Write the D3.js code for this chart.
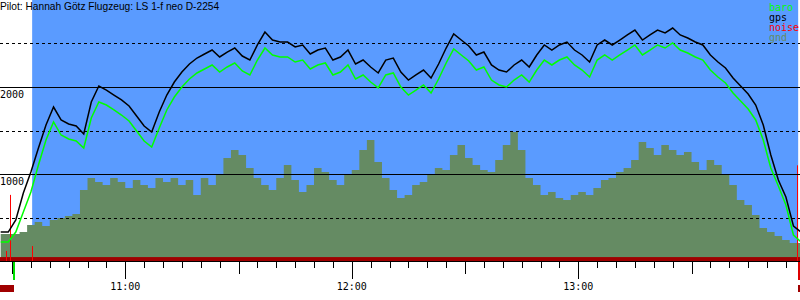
<!DOCTYPE html>
<html>
<head>
<meta charset="utf-8">
<script src="https://cdn.jsdelivr.net/npm/d3@7"></script>
<style>
    body { margin: 0; background: #fff; }
    svg { display: block; }
    .mono { font-family: "DejaVu Sans Mono", monospace; font-size: 10px; }
</style>
</head>
<body>
<script>
//flight data, sampled every 2 minutes starting 10:27
var startTime = "10:27:00",
    stepMinutes = 2;

//gps altitude (m)
var gps = [333, 333, 471, 782, 1023, 1299, 1563, 1770, 1621, 1575,
    1552, 1460, 1828, 2011, 1965, 1908, 1851, 1782, 1667, 1552,
    1483, 1713, 1908, 2057, 2172, 2264, 2333, 2379, 2425, 2345,
    2402, 2448, 2356, 2310, 2483, 2632, 2540, 2517, 2517, 2460,
    2483, 2379, 2425, 2448, 2310, 2345, 2425, 2264, 2310, 2230,
    2161, 2310, 2333, 2172, 2080, 2138, 2195, 2103, 2264, 2448,
    2609, 2540, 2471, 2368, 2402, 2253, 2195, 2172, 2253, 2310,
    2230, 2368, 2483, 2425, 2483, 2517, 2425, 2368, 2287, 2483,
    2540, 2483, 2540, 2598, 2655, 2540, 2598, 2655, 2621, 2678,
    2598, 2563, 2517, 2483, 2368, 2287, 2218, 2103, 2011, 1920,
    1793, 1563, 1218, 931, 736, 402, 333];

//barometric altitude (m)
var baro = [218, 218, 333, 563, 793, 1103, 1391, 1598, 1448, 1402,
    1379, 1299, 1644, 1828, 1793, 1736, 1678, 1609, 1494, 1379,
    1310, 1529, 1736, 1885, 2000, 2092, 2161, 2207, 2253, 2172,
    2230, 2276, 2184, 2138, 2310, 2448, 2368, 2345, 2345, 2287,
    2310, 2207, 2253, 2276, 2138, 2172, 2253, 2092, 2138, 2057,
    1989, 2138, 2161, 2000, 1908, 1965, 2023, 1931, 2092, 2276,
    2437, 2368, 2299, 2195, 2230, 2080, 2023, 2000, 2080, 2138,
    2057, 2195, 2310, 2253, 2310, 2345, 2253, 2195, 2115, 2310,
    2368, 2310, 2368, 2425, 2483, 2368, 2425, 2483, 2448, 2506,
    2425, 2391, 2345, 2310, 2195, 2115, 2046, 1931, 1839, 1747,
    1621, 1391, 1069, 862, 644, 299, 218];

//ground elevation below the track (m)
var gnd = [310, 310, 310, 333, 414, 448, 402, 471, 494, 517,
    540, 816, 954, 908, 874, 954, 908, 839, 931, 874,
    839, 954, 908, 954, 874, 931, 759, 954, 874, 988,
    1184, 1276, 1218, 1069, 954, 874, 816, 954, 1103, 931,
    793, 874, 1069, 1023, 931, 874, 988, 1046, 1276, 1391,
    1138, 954, 816, 724, 759, 874, 908, 988, 1069, 1046,
    1218, 1333, 1184, 1103, 1046, 1023, 1161, 1333, 1483, 1276,
    954, 874, 759, 793, 724, 701, 759, 793, 759, 839,
    931, 954, 1023, 1069, 1161, 1368, 1299, 1218, 1333, 1276,
    1218, 1253, 1138, 1046, 1161, 1103, 988, 874, 701, 644,
    529, 379, 333, 287, 241, 207, 207];

//noise level: base value plus single spikes
var noiseBase = 45;
var noiseSpikeTimes = ["10:28:25", "10:29:35", "10:35:20"],
    noiseSpikeValues = [115, 760, 172];

//flight events
var takeoffTime = "10:30:30",
    releaseTime = "10:35:20",
    landingTime = "13:58:15";

//axis range and grid
var axisStart = "10:26:49",
    axisEnd = "13:58:44";
var yMax = 3000;
var solidGrid = [1000, 2000],
    dashedGrid = [500, 1500, 2500],
    yLabels = ["1000", "2000"];

var title = "Pilot: Hannah Götz Flugzeug: LS 1-f neo D-2254";
var legendNames = ["baro", "gps", "noise", "gnd"],
    legendColors = ["#00ff00", "#000000", "#ff0000", "#658b63"];

window.onload = drawChart();

function drawChart(){

    var width = 800,
        height = 300,
        plotBottom = 261;

    var parseTime = d3.timeParse("%H:%M:%S");
    var t0 = parseTime(startTime);

    //time of each sample
    var times = gps.map(function(d, i){
        return d3.timeMinute.offset(t0, i * stepMinutes);
    });

    var svg = d3.select("body")
        .append("svg")
        .attr("width", width)
        .attr("height", height);

    var x = d3.scaleTime()
        .domain([parseTime(axisStart), parseTime(axisEnd)])
        .range([0, width]);

    var y = d3.scaleLinear()
        .domain([0, yMax])
        .range([plotBottom, 0]);

    //sky background between release and landing
    svg.append("rect")
        .attr("x", x(parseTime(releaseTime)))
        .attr("y", 0)
        .attr("width", x(parseTime(landingTime)) - x(parseTime(releaseTime)))
        .attr("height", plotBottom)
        .attr("fill", "#5a9bff");

    //ground area
    var gndArea = d3.area()
        .x(function(d, i){ return x(times[i]); })
        .y0(y(0))
        .y1(function(d){ return y(d); })
        .curve(d3.curveStep);

    svg.append("path")
        .datum(gnd)
        .attr("d", gndArea)
        .attr("fill", "#658b63");

    //noise base band
    svg.append("rect")
        .attr("x", 0)
        .attr("y", y(noiseBase))
        .attr("width", width)
        .attr("height", y(0) - y(noiseBase))
        .attr("fill", "#a00000");

    //noise spikes
    svg.selectAll(".spike")
        .data(noiseSpikeValues)
        .enter()
        .append("line")
        .attr("class", "spike")
        .attr("x1", function(d, i){ return Math.round(x(parseTime(noiseSpikeTimes[i]))) + 0.5; })
        .attr("x2", function(d, i){ return Math.round(x(parseTime(noiseSpikeTimes[i]))) + 0.5; })
        .attr("y1", y(0))
        .attr("y2", function(d){ return y(d); })
        .attr("stroke", "#ff0000")
        .attr("stroke-width", 1);

    //landing line
    svg.append("line")
        .attr("x1", Math.round(x(parseTime(landingTime))) - 0.5)
        .attr("x2", Math.round(x(parseTime(landingTime))) - 0.5)
        .attr("y1", y(0))
        .attr("y2", y(1100))
        .attr("stroke", "#ff0000");

    //grid lines
    svg.selectAll(".gridSolid")
        .data(solidGrid)
        .enter()
        .append("line")
        .attr("x1", 0)
        .attr("x2", width)
        .attr("y1", function(d){ return Math.round(y(d)) + 0.5; })
        .attr("y2", function(d){ return Math.round(y(d)) + 0.5; })
        .attr("stroke", "#000");

    svg.selectAll(".gridDashed")
        .data(dashedGrid)
        .enter()
        .append("line")
        .attr("x1", 0)
        .attr("x2", width)
        .attr("y1", function(d){ return Math.round(y(d)) + 0.5; })
        .attr("y2", function(d){ return Math.round(y(d)) + 0.5; })
        .attr("stroke", "#000")
        .attr("stroke-dasharray", "3,3");

    svg.selectAll(".yLabel")
        .data(yLabels)
        .enter()
        .append("text")
        .attr("class", "mono")
        .attr("x", 0)
        .attr("y", function(d){ return Math.round(y(+d)) + 11; })
        .text(function(d){ return d; });

    //altitude lines
    var line = d3.line()
        .x(function(d, i){ return x(times[i]); })
        .y(function(d){ return y(d); });

    svg.append("path")
        .datum(baro)
        .attr("d", line)
        .attr("fill", "none")
        .attr("stroke", "#00ff00")
        .attr("stroke-width", 1.5);

    svg.append("path")
        .datum(gps)
        .attr("d", line)
        .attr("fill", "none")
        .attr("stroke", "#000")
        .attr("stroke-width", 1.5);

    //time axis
    svg.append("line")
        .attr("x1", 0)
        .attr("x2", width)
        .attr("y1", plotBottom + 0.5)
        .attr("y2", plotBottom + 0.5)
        .attr("stroke", "#000");

    var ticks = x.ticks(d3.timeMinute.every(5));

    svg.selectAll(".tick")
        .data(ticks)
        .enter()
        .append("line")
        .attr("x1", function(d){ return Math.round(x(d)) + 0.5; })
        .attr("x2", function(d){ return Math.round(x(d)) + 0.5; })
        .attr("y1", plotBottom)
        .attr("y2", function(d){
            var m = d.getMinutes();
            return plotBottom + (m === 0 ? 18 : (m === 30 ? 13 : 7));
        })
        .attr("stroke", "#000");

    svg.selectAll(".tickLabel")
        .data(ticks.filter(function(d){ return d.getMinutes() === 0; }))
        .enter()
        .append("text")
        .attr("class", "mono")
        .attr("x", function(d){ return x(d); })
        .attr("y", 290)
        .attr("text-anchor", "middle")
        .text(d3.timeFormat("%H:%M"));

    //takeoff and landing markers
    var tx = x(parseTime(takeoffTime)),
        lx = x(parseTime(landingTime));

    svg.append("rect")
        .attr("x", Math.round(tx) - 1)
        .attr("y", plotBottom + 1)
        .attr("width", 2)
        .attr("height", 18)
        .attr("fill", "#00e000");

    svg.append("rect")
        .attr("x", 0)
        .attr("y", 285)
        .attr("width", Math.round(tx))
        .attr("height", 7)
        .attr("fill", "#a00000");

    svg.append("rect")
        .attr("x", Math.round(lx))
        .attr("y", plotBottom + 1)
        .attr("width", 2)
        .attr("height", 18)
        .attr("fill", "#dd0000");

    svg.append("rect")
        .attr("x", Math.round(lx))
        .attr("y", 285)
        .attr("width", 2)
        .attr("height", 7)
        .attr("fill", "#a00000");

    //title
    svg.append("text")
        .attr("x", 0)
        .attr("y", 10)
        .style("font-family", "'Liberation Sans', Arial, sans-serif")
        .style("font-size", "10.2px")
        .text(title);

    //legend
    svg.selectAll(".legend")
        .data(legendNames)
        .enter()
        .append("text")
        .attr("class", "mono")
        .attr("x", 769)
        .attr("y", function(d, i){ return 11 + i * 10; })
        .attr("fill", function(d, i){ return legendColors[i]; })
        .text(function(d){ return d; });
}
</script>
</body>
</html>
